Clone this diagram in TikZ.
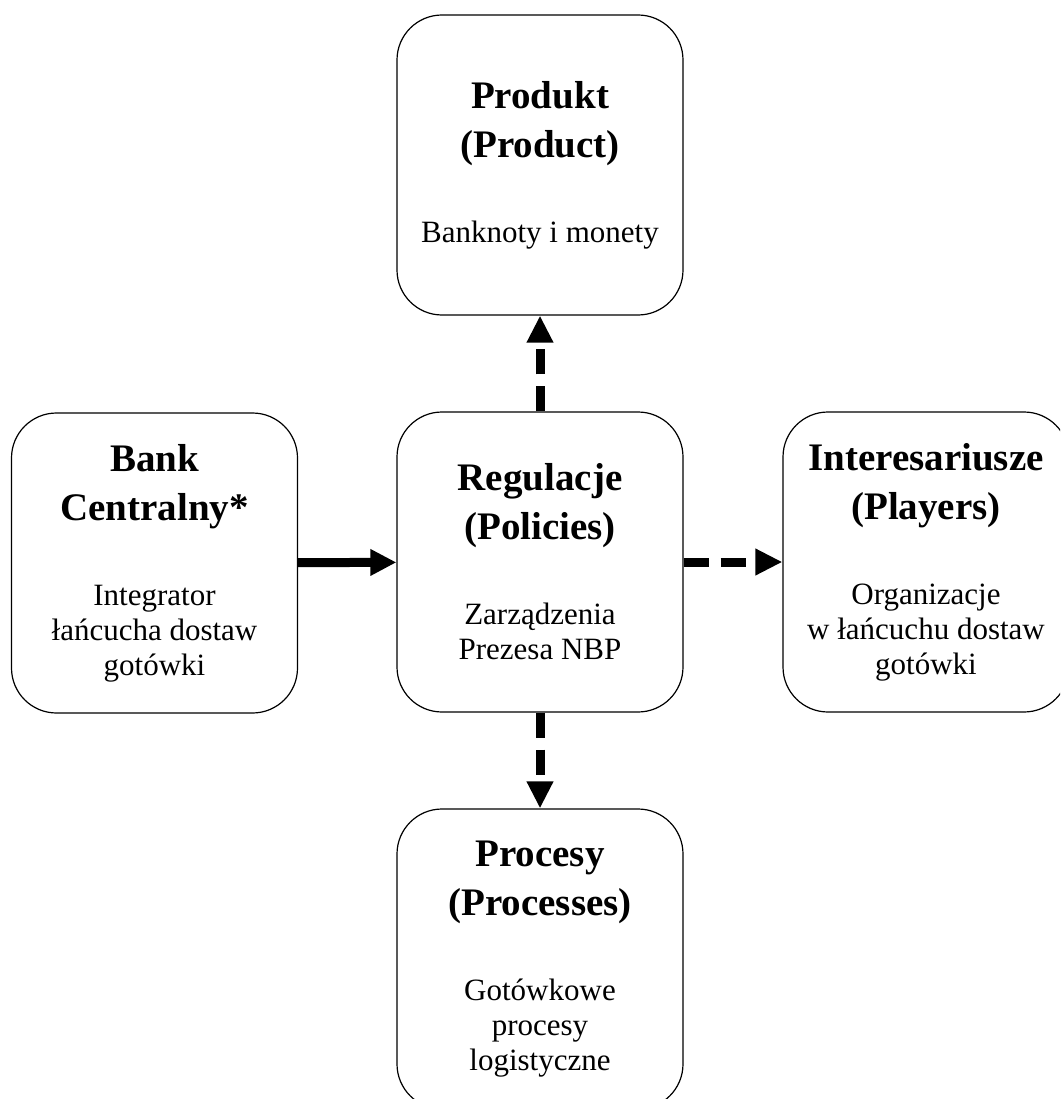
\documentclass[tikz,border=0pt]{standalone}
\usepackage{fontspec}
\setmainfont{Liberation Serif}
\usetikzlibrary{arrows.meta}
\newcommand{\ttlfont}{\fontsize{39}{49}\selectfont\bfseries\spaceskip=0pt\xspaceskip=0pt}
\newcommand{\bdyfont}{\fontsize{31}{35}\selectfont\spaceskip=0pt\xspaceskip=0pt}
\tikzset{
  blockbox/.style={draw=black, line width=1.2pt, rounded corners=45pt,
    minimum width=286pt, minimum height=300pt, text width=280pt, align=flush center, inner sep=0pt},
  solidarrow/.style={line width=9pt, -{Triangle[length=26pt,width=25pt]}},
  dasharrow/.style={line width=9pt, dash pattern=on 25pt off 12pt, -{Triangle[length=27pt,width=25pt]}}
}
\begin{document}
\begin{tikzpicture}[x=1pt,y=-1pt]
\useasboundingbox (0,0) rectangle (1060,1099);
\clip (0,0) rectangle (1060,1099);
\node[blockbox] (prod) at (540,165) {{\ttlfont Produkt\\(Product)\par}\vspace{50pt}{\bdyfont Banknoty i monety\par}};
\node[blockbox] (bank) at (154.5,563) {{\ttlfont Bank\\Centralny*\par}\vspace{50pt}{\bdyfont Integrator\\łańcucha dostaw\\gotówki\par}};
\node[blockbox] (reg) at (540,562) {{\ttlfont Regulacje\\(Policies)\par}\vspace{50pt}{\bdyfont Zarządzenia\\Prezesa NBP\par}};
\node[blockbox] (play) at (926,562) {{\ttlfont Interesariusze\\(Players)\par}\vspace{50pt}{\bdyfont Organizacje\\w łańcuchu dostaw\\gotówki\par}};
\node[blockbox] (proc) at (540,959) {{\ttlfont Procesy\\(Processes)\par}\vspace{50pt}{\bdyfont Gotówkowe\\procesy\\logistyczne\par}};
\draw[solidarrow] (bank) -- (reg);
\draw[dasharrow] (reg) -- (prod);
\draw[dasharrow] (reg) -- (play);
\draw[dasharrow] (reg) -- (proc);
\end{tikzpicture}
\end{document}
